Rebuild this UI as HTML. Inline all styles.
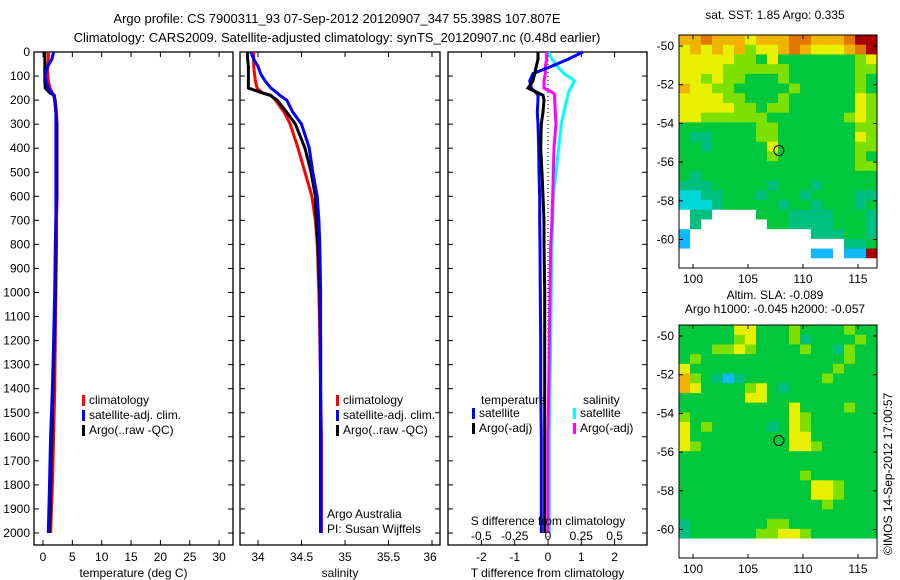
<!DOCTYPE html>
<html><head><meta charset="utf-8"><style>
body{margin:0;background:#fff}
svg{display:block;font-family:"Liberation Sans",sans-serif}
text{font-size:12px;fill:#000}
</style></head><body>
<svg id="fig" width="900" height="580" viewBox="0 0 900 580"></svg>
<script>
// ---- data ----
const depths=[0,30,60,90,120,150,170,180,200,250,300,400,500,600,700,800,1000,1200,1400,1600,1800,2000];
const tempClim=[0.9,0.9,0.8,0.8,0.9,1.2,1.6,1.9,2.1,2.3,2.4,2.4,2.4,2.4,2.3,2.3,2.2,2.1,2.0,1.8,1.6,1.3];
const tempSat=[1.8,1.5,0.8,0.4,0.5,0.9,1.5,1.8,2.0,2.2,2.2,2.2,2.2,2.2,2.2,2.1,2.0,1.8,1.6,1.3,1.1,0.9];
const tempArgo=[0.3,0.3,0.3,0.3,0.3,0.4,1.2,1.9,2.0,2.2,2.3,2.3,2.3,2.3,2.2,2.2,2.1,1.9,1.7,1.5,1.3,1.1];
const salClim=[33.95,33.95,33.95,33.96,33.97,33.99,34.05,34.15,34.2,34.3,34.37,34.46,34.54,34.62,34.66,34.68,34.70,34.71,34.72,34.73,34.73,34.73];
const salSat=[33.92,33.95,34.0,34.03,34.08,34.15,34.22,34.25,34.33,34.4,34.5,34.59,34.63,34.68,34.70,34.71,34.72,34.72,34.72,34.72,34.72,34.72];
const salArgo=[33.88,33.88,33.89,33.89,33.89,33.89,34.05,34.14,34.22,34.33,34.43,34.54,34.61,34.66,34.67,34.69,34.71,34.72,34.72,34.72,34.72,34.72];
const dTSat=[1.05,0.6,0.1,-0.45,-0.55,-0.5,-0.35,-0.3,-0.3,-0.32,-0.3,-0.28,-0.27,-0.25,-0.25,-0.24,-0.23,-0.22,-0.22,-0.2,-0.2,-0.2];
const dTArgo=[-0.3,-0.3,-0.35,-0.4,-0.45,-0.6,-0.3,-0.15,-0.12,-0.15,-0.2,-0.22,-0.18,-0.15,-0.12,-0.12,-0.1,-0.1,-0.1,-0.1,-0.1,-0.1];
const dSSat=[0.0,0.03,0.07,0.12,0.2,0.17,0.15,0.15,0.14,0.12,0.1,0.08,0.06,0.04,0.035,0.03,0.025,0.02,0.015,0.01,0.01,0.01];
const dSArgo=[-0.01,-0.01,-0.02,-0.02,-0.03,-0.03,0.04,0.05,0.05,0.055,0.06,0.045,0.04,0.035,0.03,0.02,0.015,0.01,0.005,0.0,0.0,0.0];
const depthTicks=[0,100,200,300,400,500,600,700,800,900,1000,1100,1200,1300,1400,1500,1600,1700,1800,1900,2000];
const tempTicks=[0,5,10,15,20,25,30];
const salTicks=[34,34.5,35,35.5,36];
const dTTicks=[-2,-1,0,1,2];
const dSTicks=[-0.5,-0.25,0,0.25,0.5];
const latTicks=[-50,-52,-54,-56,-58,-60];
const lonTicks=[100,105,110,115];
const sstGrid=["778777677788777899","676767566787666789","666665546444444456","666655555544444455","665655444544444454","766554444454444454","666655444544444465","666665545544444465","665555554444444565","444444455444444455","433444455444444465","443444446444444455","444444445444444454","444444444444444455","434444444444444444","333444443444344444","223344434443444433","222344444344344434","033000044433334443","030000004433334443","100000000000333443","100000000000000334","000000000000110119","000000000000000000"];
const slaGrid=["444446644454444544","444445644453444454","444556544445443544","454444444444444544","644444444444445444","754313444444454444","764444564344444444","444444664444444444","444444444464444544","544444444465444444","645444443465444444","644444444466444444","654444444466544444","444444444444444444","444444444444444444","444444444445444444","444444444444665444","444444444444665444","444444444444454444","444444444444444444","344444445544444444","344444455665444444","000000000000000000","000000000000000000"];
const colors=["#ffffff","#10b8ff","#00d8d8","#00c080","#00c83c","#7ee000","#e8f000","#f0b400","#e07800","#a80000"];

// ---- helpers ----
const NS="http://www.w3.org/2000/svg",svg=document.getElementById('fig');
function mk(tag,attrs,parent){const e=document.createElementNS(NS,tag);for(const k in attrs)e.setAttribute(k,attrs[k]);(parent||svg).appendChild(e);return e;}
function txt(s,x,y,anchor,parent){const t=mk('text',{x:x,y:y,'text-anchor':anchor||'middle'},parent);t.textContent=s;return t;}
const yD=d=>52+d*0.2405;
const xT=v=>43+v*5.87, xS=v=>258+(v-34)*87, xDT=v=>548+v*33.3, xDS=v=>548+v*133.2;

function panel(name,x0,x1,ticks,xf,label,showDepth){
  const g=mk('g',{},svg);
  
  
  mk('rect',{x:x0,y:52,width:x1-x0,height:493,fill:'none',stroke:'#000','stroke-width':1.3},g);
  ticks.forEach(v=>{const x=xf(v);mk('line',{x1:x,x2:x,y1:52,y2:57,stroke:'#000'},g);mk('line',{x1:x,x2:x,y1:545,y2:540,stroke:'#000'},g);
    let lx=Math.min(x,x1-10);const t=txt(String(v),lx,561,'middle',g);});
  depthTicks.forEach(d=>{const y=yD(d);mk('line',{x1:x0,x2:x0+5,y1:y,y2:y,stroke:'#000'},g);mk('line',{x1:x1,x2:x1-5,y1:y,y2:y,stroke:'#000'},g);
    if(showDepth){const t=txt(String(d),30,y+4,'end',g);}});
  const l=txt(label,(x0+x1)/2,577,'middle',g);
  return g;
}
function line(g,vals,xf,color,w,name){
  const p=mk('polyline',{points:vals.map((v,i)=>xf(v).toFixed(1)+','+yD(depths[i]).toFixed(1)).join(' '),fill:'none',stroke:color,'stroke-width':w},g);
  
  
}
function legend(g,items,x,y){
  items.forEach((it,i)=>{mk('rect',{x:x,y:y+i*15-9,width:3,height:11,fill:it[1]},g);
    const t=txt(it[0],x+7,y+i*15,'start',g);});
}

// titles
let t=txt('Argo profile: CS 7900311_93 07-Sep-2012 20120907_347 55.398S 107.807E',337,23);
t.style.fontSize='13px';
t=txt('Climatology: CARS2009. Satellite-adjusted climatology: synTS_20120907.nc (0.48d earlier)',337,42);
t.style.fontSize='13px';

// panel 1
const g1=panel('temperature-panel',34,233,tempTicks,xT,'temperature (deg C)',true);
line(g1,tempClim,xT,'#f00',3,'temp-climatology-line');
line(g1,tempArgo,xT,'#000',3,'temp-argo-line');
line(g1,tempSat,xT,'#00f',3,'temp-satellite-line');
legend(g1,[['climatology','#f00'],['satellite-adj. clim.','#00f'],['Argo(..raw -QC)','#000']],82,404);

// panel 2
const g2=panel('salinity-panel',240,440,salTicks,xS,'salinity',false);
line(g2,salClim,xS,'#f00',3,'sal-climatology-line');
line(g2,salArgo,xS,'#000',3,'sal-argo-line');
line(g2,salSat,xS,'#00f',3,'sal-satellite-line');
legend(g2,[['climatology','#f00'],['satellite-adj. clim.','#00f'],['Argo(..raw -QC)','#000']],336,404);
txt('Argo Australia',327,518,'start',g2);
txt('PI: Susan Wijffels',327,533,'start',g2);

// panel 3
const g3=panel('difference-panel',448,647,dTTicks,xDT,'T difference from climatology',false);
mk('line',{x1:548,x2:548,y1:52,y2:545,stroke:'#000','stroke-dasharray':'1,3'},g3);
line(g3,dSSat,xDS,'#0ff',3,'sal-diff-satellite-line');
line(g3,dSArgo,xDS,'#f0f',3,'sal-diff-argo-line');
line(g3,dTSat,xDT,'#00f',3,'temp-diff-satellite-line');
line(g3,dTArgo,xDT,'#000',3,'temp-diff-argo-line');
txt('temperature',481,404,'start',g3);txt('salinity',583,404,'start',g3);
legend(g3,[['satellite','#00f'],['Argo(-adj)','#000']],472,417);
legend(g3,[['satellite','#0ff'],['Argo(-adj)','#f0f']],573,417);
txt('S difference from climatology',548,525,'middle',g3);
dSTicks.forEach(v=>txt(String(v),xDS(v),540,'middle',g3));

// maps
function map(name,grid,y0,title1,title2){
  const g=mk('g',{},svg);
  
  
  const x0=679,w=198,h=233,cw=w/18,ch=h/24;
  grid.forEach((row,r)=>{for(let c=0;c<18;c++){mk('rect',{x:(x0+c*cw).toFixed(2),y:(y0+r*ch).toFixed(2),width:(cw+0.4).toFixed(2),height:(ch+0.4).toFixed(2),fill:colors[+row[c]]},g);}});
  mk('rect',{x:x0,y:y0,width:w,height:h,fill:'none',stroke:'#000'},g);
  const lat=v=>y0+11+(-50-v)*19.35, lon=v=>693+(v-100)*11;
  latTicks.forEach(v=>{const y=lat(v);mk('line',{x1:x0,x2:x0+4,y1:y,y2:y,stroke:'#000'},g);mk('line',{x1:x0+w,x2:x0+w-4,y1:y,y2:y,stroke:'#000'},g);txt(String(v),674,y+4,'end',g);});
  lonTicks.forEach(v=>{const x=lon(v);mk('line',{x1:x,x2:x,y1:y0,y2:y0+4,stroke:'#000'},g);mk('line',{x1:x,x2:x,y1:y0+h,y2:y0+h-4,stroke:'#000'},g);txt(String(v),x,y0+h+15,'middle',g);});
  mk('circle',{cx:lon(107.807),cy:lat(-55.398),r:5,fill:'none',stroke:'#000'},g);
  if(title2){txt(title1,775,y0-26,'middle',g);txt(title2,775,y0-12,'middle',g);}else txt(title1,775,y0-16,'middle',g);
}
map('sst-map',sstGrid,35,'sat. SST: 1.85 Argo: 0.335');
map('sla-map',slaGrid,325,'Altim. SLA: -0.089','Argo h1000: -0.045 h2000: -0.057');
t=txt('©IMOS 14-Sep-2012 17:00:57',0,0,'start');
t.setAttribute('transform','translate(892,555) rotate(-90)');

</script>
</body></html>
